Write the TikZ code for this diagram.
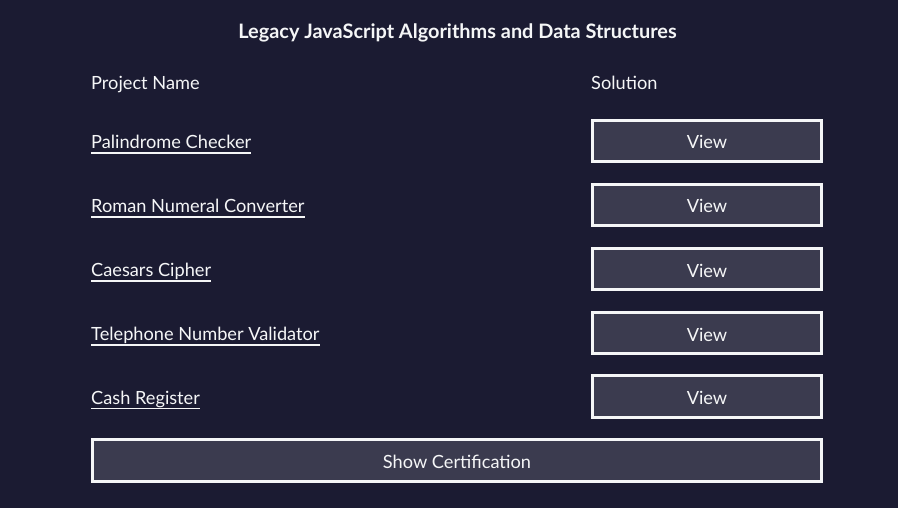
\documentclass[tikz,border=0pt]{standalone}
\usepackage{fontspec}
\setmainfont{Lato}
\definecolor{bgc}{HTML}{1B1B32}
\definecolor{btnc}{HTML}{3B3B4F}
\definecolor{fgc}{HTML}{F5F6F7}
\tikzset{
  btn/.style={draw=fgc, fill=btnc, line width=3pt, text=fgc, font=\fontsize{18.2}{21}\selectfont, inner sep=0pt, text height=16pt, text depth=0pt, minimum width=229pt, minimum height=41.5pt},
  wide/.style={btn, minimum width=729pt, minimum height=42pt},
  hdr/.style={text=fgc, font=\fontsize{18.2}{21}\selectfont, inner sep=0pt, anchor=base west},
  proj/.style={hdr},
  uline/.style={draw=fgc, line width=1.5pt}
}
\begin{document}
\begin{tikzpicture}[x=1pt,y=-1pt]
\fill[bgc] (0,0) rectangle (898,508);
\useasboundingbox (0,0) rectangle (898,508);
\node[text=fgc, font=\bfseries\fontsize{19.9}{23}\selectfont, inner sep=0pt, anchor=base] (title) at (457.5,39) {Legacy JavaScript Algorithms and Data Structures};
\node[hdr] (hname) at (91,89.5) {Project Name};
\node[hdr] (hsol) at (591,89.5) {Solution};
\foreach \n/\t/\y in {p1/Palindrome Checker/141, p2/Roman Numeral Converter/205, p3/Caesars Cipher/269, p4/Telephone Number Validator/333, p5/Cash Register/396.5}{
  \node[proj] (\n) at (91,\y+7.8) {\t};
  \draw[uline] ([yshift=-4.3pt]\n.base west) -- ([yshift=-4.3pt]\n.base east);
  \node[btn] (v\n) at (707,\y) {View};
}
\node[wide] (cert) at (457,460.5) {Show Certification};
\end{tikzpicture}
\end{document}
